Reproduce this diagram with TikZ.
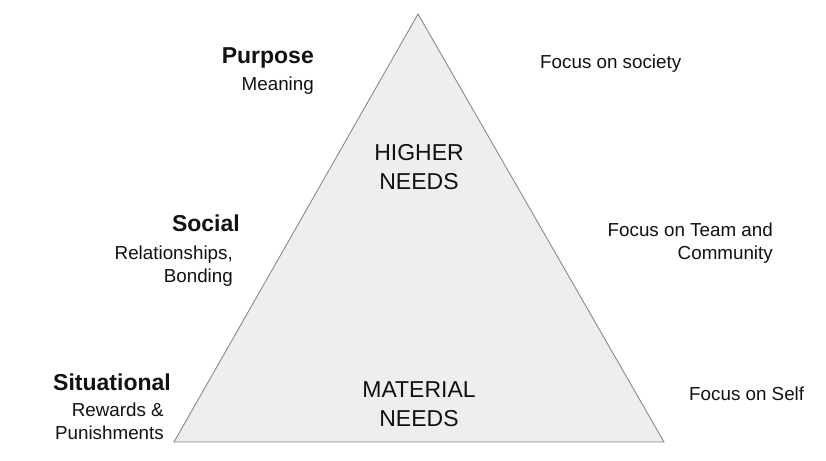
\documentclass[tikz,border=0pt]{standalone}
\usepackage{fontspec}
\setmainfont{Liberation Sans}
\usetikzlibrary{positioning, calc}
\definecolor{pyramidfill}{HTML}{EEEEEE}
\definecolor{pyramidedge}{HTML}{8A8A8A}
\definecolor{pyramidtext}{HTML}{111111}

\tikzset{
  levelhead/.style={anchor=east, inner sep=0pt, text=pyramidtext, font=\fontsize{23}{27}\selectfont\bfseries},
  levelsub/.style={anchor=east, inner sep=0pt, align=right, text=pyramidtext, font=\fontsize{18.8}{23}\selectfont},
  focustext/.style={inner sep=0pt, align=right, text=pyramidtext, font=\fontsize{18.8}{23}\selectfont},
  needstext/.style={inner sep=0pt, align=center, text=pyramidtext, font=\fontsize{23}{29.5}\selectfont}
}

\begin{document}
\begin{tikzpicture}[x=1pt, y=-1pt]
    \useasboundingbox (0,0) rectangle (826,460);

    % pyramid
    \coordinate (apex) at (418,14);
    \coordinate (baseleft) at (174,442);
    \coordinate (baseright) at (664,442);
    \draw[draw=pyramidedge, fill=pyramidfill, line width=0.9pt, line join=miter] (apex) -- (baseright) -- (baseleft) -- cycle;

    \node[needstext] (higher) at (419,167) {HIGHER\\NEEDS};
    \node[needstext] (material) at (419,404) {MATERIAL\\NEEDS};

    % levels on the left
    \node[levelhead] (purpose) at (314,58) {Purpose};
    \node[levelsub] (meaning) at (314,86) {Meaning};

    \node[levelhead] (social) at (240,223) {Social};
    \node[levelsub] (bonding) at (233,266) {Relationships,\\Bonding};

    \node[levelhead] (situational) at (171,382) {Situational};
    \node[levelsub] (rewards) at (164,421) {Rewards \&\\Punishments};

    % focus on the right
    \node[focustext, anchor=west] (society) at (540,64) {Focus on society};
    \node[focustext, anchor=east] (team) at (773,243) {Focus on Team and\\Community};
    \node[focustext, anchor=west] (self) at (689,394) {Focus on Self};
\end{tikzpicture}
\end{document}
